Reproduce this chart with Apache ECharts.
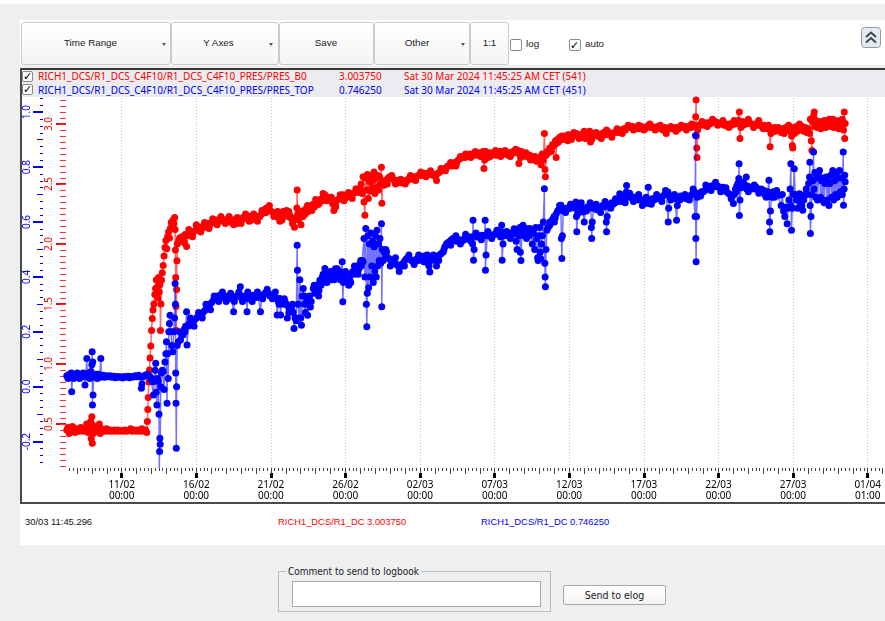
<!DOCTYPE html>
<html><head><meta charset="utf-8">
<script src="https://cdn.jsdelivr.net/npm/echarts@6/dist/echarts.min.js"></script>
<style>
html,body{margin:0;padding:0;width:885px;height:621px;overflow:hidden;background:#eeeff1;font-family:"Liberation Sans",Arial,sans-serif;}
.abs{position:absolute;white-space:nowrap;}
#topstrip{left:0;top:0;width:885px;height:4px;background:#fff;}
#toolbar{left:20px;top:20px;width:865px;height:45px;background:#fff;}
#plotpanel{left:20px;top:68px;width:865px;height:475px;background:#fff;border-top:2px solid #3a3a3a;}
#legendband{left:21px;top:70px;width:864px;height:27px;background:#eaecef;}
#leftline{left:20px;top:68px;width:1.5px;height:436px;background:#4a4a4a;}
#bottomline{left:20px;top:502px;width:865px;height:2px;background:#4a4a4a;}
.btn{position:absolute;top:22px;height:43px;border:1px solid #cacaca;border-radius:3px;background:linear-gradient(#ffffff,#f4f4f4);box-sizing:border-box;}
.btxt{position:absolute;top:37px;font-size:9.8px;color:#1a1a1a;transform:translateX(-50%);white-space:nowrap;font-family:"Liberation Sans",Arial,sans-serif;}
.caret{position:absolute;top:43px;width:0;height:0;border-left:2.5px solid transparent;border-right:2.5px solid transparent;border-top:3px solid #555;}
.cb{position:absolute;width:11px;height:11px;border:1px solid #8a8a8a;border-radius:2px;background:#fff;box-sizing:border-box;}
.ck{position:absolute;font-family:"DejaVu Sans";font-size:11px;color:#000;line-height:11px;}
.leg{position:absolute;font-family:"Noto Sans";font-size:10px;line-height:12px;white-space:nowrap;}
.stat{position:absolute;top:516px;font-family:"Liberation Sans",Arial,sans-serif;font-size:9.4px;white-space:nowrap;}
#chart{position:absolute;left:0;top:0;width:885px;height:621px;z-index:1;}
#fs{left:278px;top:571px;width:273px;height:41px;border:1px solid #bdbdbd;box-sizing:border-box;}
#fslegend{left:286px;top:566px;background:#eeeff1;padding:0 2px;font-family:"DejaVu Sans Condensed","DejaVu Sans";font-stretch:condensed;font-size:10px;color:#222;}
#inp{left:292px;top:581px;width:249px;height:26px;border:1px solid #a9a9a9;background:#fff;box-sizing:border-box;}
#send{left:563px;top:585px;width:103px;height:20px;border:1px solid #a9a9a9;border-radius:2px;background:linear-gradient(#ffffff,#f2f2f2);box-sizing:border-box;text-align:center;line-height:18px;font-family:"DejaVu Sans Condensed","DejaVu Sans";font-stretch:condensed;font-size:10.5px;color:#222;}
</style></head>
<body>
<div class="abs" id="topstrip"></div>
<div class="abs" id="toolbar"></div>
<div class="abs" id="plotpanel"></div>
<div class="abs" id="legendband"></div>
<div class="abs" id="leftline"></div>
<div class="abs" id="bottomline"></div>

<div class="btn" style="left:21px;width:150px"></div>
<div class="btn" style="left:171px;width:108px"></div>
<div class="btn" style="left:279px;width:95px"></div>
<div class="btn" style="left:374px;width:96px"></div>
<div class="btn" style="left:470px;width:39px"></div>
<div class="btxt" style="left:90.5px">Time Range</div>
<div class="caret" style="left:161.5px"></div>
<div class="btxt" style="left:218.5px">Y Axes</div>
<div class="caret" style="left:269px"></div>
<div class="btxt" style="left:326px">Save</div>
<div class="btxt" style="left:417px">Other</div>
<div class="caret" style="left:460.5px"></div>
<div class="btxt" style="left:489.5px">1:1</div>
<div class="cb" style="left:510px;top:39px;width:12px;height:12px"></div>
<div class="leg" style="left:526px;top:38px;color:#222;font-family:'Liberation Sans';font-size:9.8px">log</div>
<div class="cb" style="left:569px;top:39px;width:12px;height:12px"></div>
<div class="ck" style="left:570px;top:40px">✓</div>
<div class="leg" style="left:585px;top:38px;color:#222;font-family:'Liberation Sans';font-size:9.8px">auto</div>
<div class="abs" style="left:861px;top:27px;width:20px;height:21px;z-index:2">
<svg width="20" height="21" viewBox="0 0 20 21"><rect x="0.5" y="0.5" width="19" height="20" rx="3" fill="#e4eaf0" stroke="#8c9aab"/><polyline points="5,10 10,5.5 15,10" fill="none" stroke="#3d4654" stroke-width="2"/><polyline points="5,15.5 10,11 15,15.5" fill="none" stroke="#3d4654" stroke-width="2"/></svg></div>

<div class="cb" style="left:22px;top:71px"></div>
<div class="ck" style="left:23px;top:71px">✓</div>
<div class="cb" style="left:22px;top:84px"></div>
<div class="ck" style="left:23px;top:84px">✓</div>
<div class="leg" style="left:38px;top:70px;color:#ff0000">RICH1_DCS/R1_DCS_C4F10/R1_DCS_C4F10_PRES/PRES_B0</div>
<div class="leg" style="left:339px;top:70px;color:#ff0000">3.003750</div>
<div class="leg" style="left:404px;top:70px;color:#ff0000">Sat 30 Mar 2024 11:45:25 AM CET (541)</div>
<div class="leg" style="left:38px;top:83.5px;color:#0000ff">RICH1_DCS/R1_DCS_C4F10/R1_DCS_C4F10_PRES/PRES_TOP</div>
<div class="leg" style="left:339px;top:83.5px;color:#0000ff">0.746250</div>
<div class="leg" style="left:404px;top:83.5px;color:#0000ff">Sat 30 Mar 2024 11:45:25 AM CET (451)</div>

<div class="stat" style="left:25px;color:#111">30/03 11:45.296</div>
<div class="stat" style="left:278px;color:#ff0000">RICH1_DCS/R1_DC 3.003750</div>
<div class="stat" style="left:481px;color:#0000ff">RICH1_DCS/R1_DC 0.746250</div>

<div class="abs" id="fs"></div>
<div class="abs" id="fslegend">Comment to send to logbook</div>
<div class="abs" id="inp"></div>
<div class="abs" id="send">Send to elog</div>

<div id="chart"></div>
<script>
// ---- x axis (days since 11/02/2024 00:00) ----
const tickDays = [0, 5, 10, 15, 20, 25, 30, 35, 40, 45, 50];
const tickLabels = ["11/02\n00:00", "16/02\n00:00", "21/02\n00:00", "26/02\n00:00", "02/03\n00:00",
  "07/03\n00:00", "12/03\n00:00", "17/03\n00:00", "22/03\n00:00", "27/03\n00:00", "01/04\n01:00"];
const xMin = -3.733, xMax = 51.16;

// ---- y axes ----
const redTicks = [0.5, 1.0, 1.5, 2.0, 2.5, 3.0];
const blueTicks = [-0.2, 0.0, 0.2, 0.4, 0.6, 0.8, 1.0];
const redMin = 0.1333, redMax = 3.2167;
const blueMin = -0.2962, blueMax = 1.0517;

// ---- PRES_B0 (red) [day, value] ----
const redData = [
[-3.68,0.45],[-3.6,0.47],[-3.52,0.42],[-3.45,0.46],[-3.38,0.44],[-3.3,0.48],[-3.22,0.45],[-3.12,0.43],[-3.05,0.46],[-2.95,0.45],
[-2.85,0.44],[-2.75,0.47],[-2.65,0.45],[-2.55,0.44],[-2.45,0.46],[-2.35,0.5],[-2.25,0.43],[-2.15,0.47],[-2.08,0.52],[-2.04,0.38],
[-2.0,0.56],[-1.97,0.34],[-1.94,0.49],[-1.9,0.42],[-1.82,0.46],[-1.74,0.44],[-1.66,0.47],[-1.58,0.45],[-1.5,0.5],[-1.44,0.42],
[-1.36,0.46],[-1.26,0.45],[-1.15,0.44],[-1.02,0.46],[-0.9,0.44],[-0.78,0.45],[-0.65,0.44],[-0.52,0.45],[-0.4,0.44],[-0.28,0.45],
[-0.15,0.44],[-0.02,0.445],[0.1,0.44],[0.22,0.45],[0.35,0.44],[0.48,0.445],[0.6,0.46],[0.72,0.44],[0.85,0.45],[0.98,0.44],
[1.1,0.45],[1.22,0.44],[1.35,0.46],[1.48,0.44],[1.6,0.45],[1.68,0.43],
[1.72,0.52],[1.75,0.62],[1.78,0.72],[1.82,0.85],[1.86,0.95],[1.9,1.05],[1.95,1.15],[2.0,1.28],[2.05,1.38],[2.1,1.45],
[2.16,1.5],[2.22,1.58],[2.27,1.63],[2.32,1.7],[2.37,1.64],[2.42,1.55],[2.47,1.72],[2.52,1.6],[2.56,1.66],[2.6,1.28],
[2.63,1.5],[2.67,1.7],[2.72,1.76],[2.78,1.82],[2.84,1.9],[2.9,1.97],[2.96,2.03],[3.02,1.96],[3.08,2.06],[3.14,2.1],
[3.2,2.05],[3.26,2.13],[3.32,2.18],[3.38,2.15],[3.44,2.2],[3.5,2.17],[3.55,2.22],[3.58,2.12],[3.6,1.95],[3.62,1.72],
[3.64,1.48],[3.66,1.28],[3.68,1.62],[3.7,1.86],[3.73,2.0],[3.8,2.02],[3.88,2.05],[3.96,2.03],[4.04,2.06],
[4.13,2.05],[4.25,2.08],[4.35,1.98],[4.45,2.07],[4.57,2.08],[4.68,2.1],[4.8,2.1],[4.92,2.11],[5.03,2.13],[5.13,2.12],
[5.25,2.14],[5.36,2.13],[5.47,2.15],[5.58,2.14],[5.69,2.16],[5.8,2.17],[5.92,2.16],[6.03,2.18],[6.14,2.18],[6.25,2.19],
[6.36,2.2],[6.47,2.19],[6.58,2.2],[6.7,2.21],[6.81,2.19],[6.92,2.2],[7.03,2.2],[7.14,2.19],[7.25,2.21],[7.36,2.18],
[7.47,2.2],[7.58,2.19],[7.7,2.17],[7.81,2.2],[7.92,2.18],[8.03,2.21],[8.14,2.22],[8.26,2.21],[8.37,2.24],[8.48,2.22],
[8.59,2.23],[8.7,2.2],[8.81,2.22],[8.93,2.21],[9.04,2.23],[9.15,2.22],[9.26,2.23],[9.37,2.25],[9.49,2.27],[9.6,2.29],
[9.71,2.3],[9.82,2.28],[9.93,2.28],[10.04,2.27],[10.15,2.26],[10.26,2.24],[10.38,2.25],[10.49,2.22],[10.6,2.19],[10.71,2.24],
[10.82,2.27],[10.93,2.25],[11.05,2.28],[11.16,2.23],[11.27,2.24],[11.38,2.21],[11.49,2.2],[11.58,2.14],[11.66,2.22],[11.74,2.3],
[11.76,2.45],[11.8,2.25],[11.86,2.2],
[11.94,2.25],[12.02,2.16],[12.1,2.27],[12.2,2.28],[12.3,2.25],[12.39,2.3],[12.5,2.27],[12.6,2.28],[12.7,2.31],[12.8,2.33],
[12.93,2.31],[13.06,2.35],[13.18,2.33],[13.3,2.37],[13.42,2.36],[13.52,2.39],[13.62,2.41],[13.72,2.38],[13.82,2.39],[13.92,2.37],
[14.02,2.36],[14.1,2.35],[14.17,2.33],[14.22,2.28],[14.3,2.34],[14.4,2.36],[14.5,2.37],[14.6,2.38],[14.72,2.4],[14.84,2.41],
[14.95,2.38],[15.06,2.39],[15.18,2.4],[15.3,2.41],[15.4,2.4],[15.51,2.42],[15.62,2.43],[15.73,2.44],[15.84,2.45],[15.96,2.46],
[16.05,2.5],[16.12,2.42],[16.18,2.56],[16.24,2.35],[16.3,2.24],[16.35,2.55],[16.41,2.45],[16.47,2.58],[16.53,2.38],[16.6,2.52],
[16.66,2.44],[16.72,2.57],[16.78,2.47],[16.85,2.53],[16.91,2.6],[16.97,2.42],[17.03,2.55],[17.09,2.47],[17.15,2.57],[17.21,2.45],
[17.28,2.56],[17.34,2.5],[17.41,2.64],[17.44,2.34],[17.5,2.52],[17.58,2.49],[17.66,2.53],[17.75,2.52],[17.86,2.55],[17.97,2.56],
[18.08,2.55],[18.2,2.54],[18.3,2.52],[18.42,2.53],[18.53,2.51],[18.64,2.52],[18.76,2.51],[18.87,2.53],[18.98,2.52],[19.09,2.52],
[19.2,2.54],[19.31,2.55],[19.42,2.54],[19.53,2.56],[19.65,2.55],[19.76,2.56],[19.87,2.57],[19.98,2.58],[20.1,2.57],[20.21,2.59],
[20.32,2.58],[20.43,2.59],[20.55,2.58],[20.66,2.59],[20.77,2.58],[20.88,2.57],[21.0,2.58],[21.1,2.53],[21.2,2.59],[21.32,2.6],
[21.43,2.61],[21.54,2.62],[21.66,2.63],[21.77,2.64],[21.88,2.65],[22.0,2.66],[22.1,2.65],[22.22,2.67],[22.33,2.68],[22.44,2.67],
[22.55,2.7],[22.66,2.71],[22.77,2.72],[22.88,2.73],[23.0,2.72],[23.1,2.74],[23.22,2.73],[23.33,2.75],[23.44,2.74],[23.55,2.74],
[23.66,2.76],[23.78,2.74],[23.9,2.75],[24.0,2.76],[24.11,2.75],[24.22,2.77],[24.28,2.63],[24.33,2.7],[24.44,2.74],[24.55,2.72],
[24.66,2.76],[24.78,2.74],[24.89,2.75],[25.0,2.76],[25.11,2.74],[25.22,2.76],[25.34,2.77],[25.45,2.75],[25.56,2.77],[25.67,2.75],
[25.78,2.76],[25.9,2.74],[26.01,2.76],[26.12,2.75],[26.23,2.77],[26.34,2.76],[26.45,2.77],[26.56,2.78],[26.62,2.67],[26.7,2.75],
[26.8,2.77],[26.9,2.74],[27.01,2.75],[27.12,2.73],[27.24,2.74],[27.35,2.74],[27.46,2.72],[27.57,2.71],[27.68,2.7],[27.8,2.69],
[27.91,2.71],
[28.02,2.72],[28.1,2.66],[28.18,2.75],[28.26,2.7],[28.33,2.92],[28.37,2.62],[28.4,2.56],[28.45,2.74],[28.52,2.77],[28.6,2.76],
[28.69,2.8],[28.78,2.79],[28.88,2.83],[28.98,2.82],[29.08,2.86],[29.12,2.72],[29.2,2.87],[29.28,2.85],[29.36,2.89],[29.46,2.88],
[29.58,2.87],[29.7,2.9],[29.82,2.88],[29.92,2.91],[30.03,2.9],[30.14,2.87],[30.25,2.9],[30.36,2.91],[30.48,2.92],[30.6,2.9],
[30.72,2.91],[30.84,2.89],[30.96,2.92],[31.08,2.88],[31.2,2.92],[31.3,2.93],[31.37,2.94],[31.42,2.85],[31.5,2.87],[31.6,2.92],
[31.72,2.91],[31.84,2.9],[31.96,2.91],[32.08,2.89],[32.2,2.92],[32.32,2.93],[32.44,2.91],[32.56,2.92],[32.68,2.93],[32.8,2.91],
[32.92,2.92],[33.04,2.93],[33.16,2.94],[33.28,2.93],[33.4,2.95],[33.52,2.94],[33.64,2.96],[33.76,2.95],[33.88,2.97],[34.0,2.98],
[34.12,2.97],[34.24,2.98],[34.36,2.97],[34.48,2.96],[34.6,2.97],[34.72,2.96],[34.84,2.98],[34.96,2.97],[35.08,2.96],[35.2,2.98],
[35.32,2.99],[35.44,2.97],[35.56,2.98],[35.68,2.97],[35.8,2.96],[35.92,2.98],[36.04,2.97],[36.16,2.96],[36.28,2.95],[36.4,2.97],
[36.5,2.92],[36.6,2.96],[36.72,2.97],[36.84,2.96],[36.96,2.97],[37.08,2.96],[37.2,2.97],[37.32,2.96],[37.44,2.97],[37.56,2.98],
[37.68,2.97],[37.8,2.98],[37.92,2.97],[38.04,2.98],[38.16,2.97],[38.28,2.98],[38.4,2.99],[38.47,3.06],[38.5,3.2],[38.52,2.9],
[38.54,2.8],[38.56,2.72],[38.6,2.95],[38.7,2.99],[38.82,3.0],[38.94,2.99],[39.06,3.01],[39.18,3.0],[39.3,3.01],[39.42,3.0],
[39.54,3.02],[39.66,3.01],[39.78,3.02],[39.9,3.01],[40.02,3.0],[40.14,3.01],[40.26,3.0],[40.38,2.99],[40.5,3.0],[40.62,2.98],
[40.74,3.0],[40.86,2.99],[40.98,3.01],[41.1,3.0],[41.22,3.02],[41.34,3.03],[41.4,3.1],[41.44,2.88],[41.5,2.97],[41.6,3.02],
[41.72,3.01],[41.84,3.0],[41.96,3.02],[42.08,3.01],[42.2,3.0],[42.32,2.99],[42.44,3.0],[42.56,2.99],[42.68,3.01],[42.8,2.99],
[42.92,2.98],[43.04,2.99],[43.16,2.97],[43.28,2.96],[43.4,2.97],[43.46,2.81],[43.52,2.92],[43.64,2.96],[43.76,2.97],[43.88,2.95],
[44.0,2.97],[44.09,2.96],
[44.2,2.93],[44.3,2.96],[44.4,2.92],[44.5,2.97],[44.6,2.95],[44.7,2.99],[44.8,2.94],[44.9,2.9],[44.95,2.82],[44.98,2.8],
[45.02,2.97],[45.1,2.92],[45.2,2.98],[45.3,2.94],[45.43,3.0],[45.52,2.96],[45.62,2.98],[45.72,2.94],[45.82,2.97],[45.92,2.93],
[46.02,2.96],[46.1,2.92],[46.16,3.04],[46.22,2.86],[46.26,2.78],[46.3,3.02],[46.38,3.07],[46.42,3.1],[46.46,2.98],[46.54,3.03],
[46.62,2.97],[46.7,3.02],[46.77,3.0],[46.86,2.96],[46.94,3.02],[47.02,2.98],[47.1,3.03],[47.18,2.97],[47.26,3.02],[47.34,2.99],
[47.42,3.04],[47.5,2.98],[47.58,3.02],[47.66,3.04],[47.74,2.97],[47.82,3.03],[47.9,2.98],[47.98,3.02],[48.06,2.96],[48.14,3.03],
[48.22,2.97],[48.3,3.04],[48.38,2.95],[48.43,3.1],[48.46,2.88],[48.49,3.00375]
];
// additional red readings (band scatter)
const redExtra = [
[4.2,2.01],[4.5,2.12],[4.75,2.06],[5.0,2.16],[5.3,2.1],[5.55,2.18],[5.85,2.13],[6.1,2.21],[6.4,2.16],[6.65,2.23],
[6.95,2.17],[7.2,2.23],[7.5,2.16],[7.75,2.22],[8.0,2.17],[8.3,2.25],[8.55,2.19],[8.85,2.25],[9.1,2.19],[9.4,2.28],
[9.65,2.26],[9.9,2.32],[10.2,2.23],[10.45,2.27],[10.75,2.2],[11.0,2.25],[11.2,2.27],[11.45,2.17],
[12.15,2.23],[12.45,2.32],[12.75,2.28],[13.0,2.37],[13.25,2.34],[13.5,2.42],[13.75,2.36],[14.05,2.39],[14.35,2.31],[14.65,2.41],
[14.9,2.36],[15.2,2.43],[15.45,2.38],[15.7,2.46],[15.9,2.43],
[17.8,2.5],[18.1,2.57],[18.35,2.5],[18.7,2.54],[19.0,2.5],[19.35,2.57],[19.7,2.53],[20.05,2.6],[20.4,2.56],[20.7,2.61],
[21.05,2.56],[21.4,2.63],[21.7,2.61],[22.05,2.68],[22.4,2.65],[22.7,2.73],[23.05,2.75],[23.4,2.72],[23.7,2.77],[24.05,2.73],
[24.4,2.77],[24.7,2.73],[25.05,2.78],[25.4,2.73],[25.7,2.78],[26.05,2.73],[26.4,2.79],[26.75,2.72],[27.1,2.76],[27.4,2.7],[27.7,2.73],
[28.8,2.77],[29.15,2.84],[29.5,2.9],[29.9,2.86],[30.3,2.93],[30.65,2.88],[31.0,2.94],[31.35,2.89],[31.8,2.93],[32.15,2.88],
[32.5,2.95],[32.85,2.89],[33.2,2.96],[33.55,2.92],[33.95,2.99],[34.3,2.95],[34.65,2.99],[35.0,2.95],[35.4,3.0],[35.75,2.95],
[36.1,2.99],[36.45,2.94],[36.8,2.98],[37.15,2.94],[37.5,2.99],[37.85,2.95],[38.2,3.0],[38.9,3.02],[39.25,2.98],[39.6,3.04],
[39.95,2.99],[40.3,3.03],[40.7,2.97],[41.05,3.03],[41.65,2.99],[42.0,3.04],[42.35,2.97],[42.7,3.03],[43.0,2.96],[43.35,2.99],[43.8,2.94]
];

// ---- PRES_TOP (blue) [day, value] ----
const blueData = [
[-3.68,0.04],[-3.6,0.03],[-3.52,0.045],[-3.45,0.035],[-3.38,0.05],[-3.35,-0.018],[-3.3,0.04],[-3.22,0.03],[-3.14,0.045],[-3.06,0.035],
[-2.98,0.05],[-2.9,0.04],[-2.82,0.03],[-2.74,0.045],[-2.66,0.035],[-2.58,0.05],[-2.5,0.04],[-2.46,0.006],[-2.4,0.042],[-2.34,0.103],
[-2.3,0.035],[-2.22,0.05],[-2.14,0.03],[-2.06,0.055],[-2.0,0.08],[-1.98,0.127],[-1.96,-0.067],[-1.94,0.09],[-1.92,-0.03],[-1.88,0.04],
[-1.8,0.035],[-1.72,0.045],[-1.64,0.03],[-1.56,0.045],[-1.48,0.035],[-1.4,0.103],[-1.36,0.035],[-1.26,0.042],[-1.14,0.034],[-1.02,0.04],
[-0.9,0.036],[-0.78,0.04],[-0.66,0.034],[-0.54,0.038],[-0.42,0.033],[-0.3,0.037],[-0.18,0.034],[-0.06,0.036],[0.06,0.032],[0.18,0.037],
[0.3,0.034],[0.42,0.038],[0.54,0.033],[0.66,0.037],[0.78,0.035],[0.9,0.04],[1.02,0.036],[1.14,0.042],[1.26,0.035],[1.32,-0.006],
[1.36,0.01],[1.42,0.035],[1.52,0.04],[1.62,0.043],[1.72,0.045],[1.82,0.04],[1.9,0.036],
[1.96,0.025],[2.02,0.03],[2.08,0.018],[2.13,-0.03],[2.18,0.02],[2.24,0.06],[2.28,0.085],[2.32,-0.02],[2.36,-0.067],[2.4,0.03],
[2.45,0.02],[2.5,-0.1],[2.52,-0.297],[2.54,-0.236],[2.56,-0.188],[2.58,-0.21],[2.62,0.0],[2.66,0.05],[2.72,0.06],[2.78,0.055],
[2.84,-0.01],[2.9,0.09],[2.96,0.12],[3.0,0.164],[3.04,-0.06],[3.08,0.12],[3.12,0.03],[3.16,0.2],[3.2,0.23],[3.24,0.26],
[3.3,0.2],[3.36,0.15],[3.42,0.127],[3.48,0.2],[3.54,0.25],[3.58,0.376],[3.6,0.3],[3.62,0.05],[3.64,-0.06],[3.66,-0.224],
[3.68,0.0],[3.72,0.15],[3.79,0.164],[3.86,0.2],[3.94,0.17],[4.02,0.19],[4.1,0.188],[4.2,0.21],[4.28,0.22],[4.35,0.273],
[4.38,0.152],[4.45,0.22],[4.55,0.23],[4.65,0.24],[4.72,0.23],[4.8,0.236],[4.9,0.245],[5.0,0.25],[5.1,0.255],[5.24,0.261],
[5.35,0.265],[5.45,0.27],[5.57,0.278],[5.69,0.285],[5.8,0.29],[5.9,0.3],[6.02,0.306],[6.14,0.315],[6.25,0.318],[6.36,0.325],
[6.47,0.33],[6.58,0.333],[6.7,0.328],[6.8,0.325],[6.92,0.33],[7.03,0.327],[7.14,0.322],[7.25,0.32],[7.36,0.326],[7.47,0.321],
[7.5,0.273],[7.58,0.325],[7.7,0.33],[7.81,0.328],[7.92,0.333],[7.95,0.364],[8.03,0.33],[8.14,0.325],[8.26,0.33],[8.37,0.327],
[8.4,0.273],[8.48,0.32],[8.6,0.33],[8.7,0.328],[8.81,0.333],[8.92,0.33],[9.04,0.325],[9.15,0.33],[9.26,0.327],[9.3,0.273],
[9.38,0.33],[9.5,0.335],[9.6,0.34],[9.71,0.345],[9.82,0.34],[9.93,0.33],[10.04,0.335],[10.15,0.333],[10.26,0.33],[10.38,0.321],
[10.42,0.261],[10.5,0.31],[10.6,0.321],[10.65,0.261],[10.72,0.31],[10.82,0.3],[10.94,0.31],[11.05,0.3],[11.1,0.25],[11.18,0.29],
[11.3,0.29],[11.4,0.28],[11.49,0.27],[11.55,0.212],[11.62,0.25],[11.7,0.24],[11.76,0.515],[11.78,0.424],[11.82,0.3],[11.88,0.25],
[11.94,0.39],[12.0,0.25],[12.05,0.224],[12.1,0.33],[12.17,0.358],[12.24,0.3],[12.31,0.27],[12.39,0.309],[12.46,0.26],[12.53,0.3],
[12.6,0.33],[12.7,0.31],[12.84,0.358],[12.94,0.34],[13.04,0.36],[13.14,0.37],[13.22,0.35],[13.28,0.388],[13.36,0.37],[13.45,0.4],
[13.54,0.39],[13.62,0.431],[13.7,0.4],[13.8,0.41],[13.9,0.39],[14.0,0.42],[14.08,0.4],[14.17,0.406],[14.25,0.39],[14.32,0.43],
[14.4,0.41],[14.5,0.405],[14.6,0.42],[14.7,0.41],[14.78,0.455],[14.82,0.309],[14.86,0.38],[14.95,0.4],[15.05,0.385],[15.15,0.39],
[15.22,0.37],[15.29,0.39],[15.38,0.41],[15.48,0.42],[15.58,0.41],[15.66,0.43],[15.74,0.431],[15.82,0.44],[15.9,0.43],[15.98,0.45],
[16.06,0.44],[16.12,0.46],[16.18,0.455],[16.24,0.54],[16.3,0.4],[16.36,0.576],[16.4,0.3],[16.43,0.218],[16.46,0.34],[16.5,0.55],
[16.55,0.36],[16.6,0.52],[16.65,0.4],[16.7,0.56],[16.76,0.44],[16.81,0.53],[16.86,0.38],[16.91,0.51],[16.96,0.42],[17.01,0.55],
[17.06,0.4],[17.11,0.57],[17.16,0.44],[17.21,0.52],[17.26,0.46],[17.31,0.54],[17.36,0.45],[17.41,0.594],[17.43,0.291],[17.47,0.5],
[17.53,0.46],[17.6,0.49],[17.68,0.47],[17.75,0.491],[17.85,0.47],[17.95,0.465],[18.06,0.46],[18.19,0.455],[18.3,0.45],[18.42,0.445],
[18.53,0.44],[18.64,0.436],[18.75,0.445],[18.86,0.45],[18.98,0.46],[19.09,0.467],[19.2,0.47],[19.31,0.465],[19.42,0.46],[19.54,0.455],
[19.65,0.46],[19.76,0.465],[19.87,0.46],[19.98,0.467],[20.1,0.47],[20.2,0.475],[20.32,0.47],[20.43,0.479],[20.52,0.45],[20.6,0.44],
[20.65,0.418],[20.72,0.46],[20.82,0.47],[20.92,0.465],[21.02,0.46],[21.1,0.44],[21.2,0.475],[21.3,0.48],[21.42,0.485],[21.55,0.491],
[21.66,0.51],[21.77,0.521],[21.88,0.525],[22.0,0.53],[22.1,0.535],[22.21,0.54],[22.32,0.535],[22.44,0.53],[22.55,0.535],[22.66,0.53],
[22.77,0.535],[22.88,0.533],[23.0,0.54],[23.1,0.538],[23.22,0.54],[23.34,0.545],[23.45,0.545],[23.52,0.52],[23.55,0.606],[23.58,0.461],
[23.62,0.5],[23.7,0.55],[23.82,0.545],[23.94,0.55],[24.05,0.548],[24.16,0.552],[24.28,0.55],[24.34,0.552],[24.36,0.606],[24.38,0.424],
[24.42,0.48],[24.5,0.55],[24.62,0.555],[24.74,0.55],[24.89,0.552],[25.0,0.555],[25.1,0.56],[25.22,0.555],[25.34,0.56],[25.45,0.564],
[25.47,0.588],[25.5,0.461],[25.56,0.52],[25.64,0.55],[25.74,0.555],[25.86,0.55],[26.01,0.552],[26.12,0.56],[26.22,0.555],[26.34,0.56],
[26.44,0.53],[26.5,0.5],[26.56,0.57],[26.62,0.55],[26.68,0.58],[26.72,0.49],[26.76,0.46],[26.82,0.56],[26.9,0.588],[26.98,0.55],
[27.06,0.57],[27.14,0.54],[27.22,0.575],[27.3,0.55],[27.35,0.576],[27.44,0.56],[27.52,0.52],[27.6,0.56],[27.68,0.5],[27.75,0.58],
[27.82,0.54],[27.88,0.47],[27.91,0.46],[27.96,0.55],
[28.02,0.58],[28.05,0.49],[28.08,0.467],[28.14,0.52],[28.2,0.55],[28.26,0.6],[28.33,0.721],[28.36,0.45],[28.38,0.4],[28.4,0.364],
[28.44,0.5],[28.5,0.57],[28.58,0.58],[28.69,0.588],[28.78,0.6],[28.88,0.61],[28.98,0.62],[29.06,0.615],[29.13,0.63],[29.22,0.64],
[29.3,0.645],[29.38,0.65],[29.44,0.661],[29.47,0.54],[29.5,0.467],[29.54,0.55],[29.6,0.64],[29.7,0.645],[29.8,0.65],[29.92,0.648],
[30.03,0.649],[30.12,0.655],[30.22,0.66],[30.34,0.665],[30.44,0.673],[30.48,0.62],[30.5,0.564],[30.56,0.63],[30.66,0.66],[30.76,0.655],
[30.86,0.645],[30.92,0.636],[31.0,0.6],[31.08,0.65],[31.2,0.655],[31.32,0.65],[31.44,0.661],[31.48,0.58],[31.5,0.54],[31.54,0.6],
[31.62,0.65],[31.72,0.655],[31.84,0.645],[31.94,0.65],[32.04,0.643],[32.14,0.655],[32.24,0.66],[32.36,0.655],[32.44,0.661],[32.48,0.6],
[32.5,0.564],[32.54,0.62],[32.62,0.66],[32.72,0.665],[32.84,0.67],[32.94,0.665],[33.04,0.67],[33.15,0.673],[33.26,0.68],[33.38,0.703],
[33.48,0.675],[33.58,0.68],[33.7,0.69],[33.82,0.709],[33.84,0.733],[33.9,0.69],[34.0,0.695],[34.12,0.69],[34.24,0.685],[34.36,0.69],
[34.49,0.685],[34.6,0.68],[34.72,0.685],[34.84,0.68],[34.96,0.675],[35.08,0.67],[35.18,0.675],[35.27,0.667],[35.29,0.727],[35.34,0.67],
[35.44,0.68],[35.56,0.685],[35.68,0.68],[35.8,0.685],[35.92,0.69],[36.05,0.685],[36.16,0.69],[36.28,0.695],[36.4,0.7],[36.5,0.705],
[36.61,0.709],[36.63,0.6],[36.66,0.65],[36.76,0.69],[36.88,0.695],[37.0,0.69],[37.1,0.685],[37.17,0.69],[37.19,0.606],[37.24,0.66],
[37.34,0.69],[37.46,0.695],[37.58,0.69],[37.7,0.688],[37.84,0.685],[37.96,0.69],[38.08,0.695],[38.2,0.7],[38.32,0.705],[38.4,0.709],
[38.43,0.62],[38.46,0.915],[38.48,0.54],[38.5,0.455],[38.53,0.62],[38.58,0.69],[38.66,0.7],[38.76,0.705],[38.86,0.71],[38.96,0.709],
[39.08,0.715],[39.2,0.72],[39.32,0.725],[39.44,0.73],[39.56,0.728],[39.63,0.733],[39.74,0.73],[39.86,0.728],[39.98,0.73],[40.1,0.725],
[40.2,0.72],[40.3,0.727],[40.42,0.715],[40.54,0.71],[40.66,0.705],[40.78,0.7],[40.88,0.695],[40.97,0.697],[41.0,0.667],[41.06,0.7],
[41.14,0.72],[41.22,0.73],[41.3,0.74],[41.36,0.758],[41.38,0.812],[41.4,0.624],[41.44,0.68],[41.52,0.725],[41.62,0.73],[41.72,0.735],
[41.82,0.733],[41.86,0.764],[41.9,0.72],[41.98,0.73],[42.08,0.725],[42.2,0.72],[42.32,0.725],[42.44,0.72],[42.53,0.727],[42.64,0.72],
[42.76,0.715],[42.88,0.72],[42.98,0.71],[43.1,0.7],[43.2,0.69],[43.3,0.71],[43.38,0.752],[43.42,0.6],[43.44,0.564],[43.48,0.64],
[43.56,0.7],[43.66,0.71],[43.76,0.69],[43.86,0.705],[43.96,0.7],[44.09,0.697],
[44.2,0.66],[44.28,0.7],[44.36,0.64],[44.44,0.62],[44.54,0.655],[44.6,0.594],[44.66,0.65],[44.72,0.68],[44.8,0.72],[44.85,0.812],
[44.87,0.66],[44.89,0.57],[44.94,0.65],[45.02,0.7],[45.08,0.794],[45.14,0.7],[45.22,0.68],[45.3,0.65],[45.38,0.69],[45.43,0.703],
[45.5,0.67],[45.58,0.66],[45.65,0.643],[45.72,0.68],[45.8,0.7],[45.88,0.72],[45.96,0.7],[46.04,0.74],[46.1,0.764],[46.12,0.818],
[46.14,0.66],[46.16,0.558],[46.2,0.62],[46.26,0.7],[46.32,0.75],[46.37,0.855],[46.4,0.72],[46.46,0.78],[46.52,0.69],[46.58,0.76],
[46.64,0.68],[46.7,0.77],[46.77,0.788],[46.84,0.69],[46.9,0.75],[46.96,0.68],[47.02,0.76],[47.08,0.67],[47.14,0.74],[47.22,0.764],
[47.28,0.68],[47.34,0.75],[47.4,0.66],[47.46,0.74],[47.52,0.77],[47.58,0.69],[47.66,0.788],[47.72,0.68],[47.78,0.75],[47.84,0.7],
[47.9,0.77],[47.96,0.69],[48.02,0.76],[48.08,0.7],[48.11,0.788],[48.18,0.71],[48.24,0.76],[48.3,0.7],[48.36,0.855],[48.38,0.661],
[48.42,0.72],[48.46,0.77],[48.49,0.74625]
];
// additional blue readings (band scatter)
const blueExtra = [
[4.25,0.2],[4.6,0.25],[4.85,0.22],[5.15,0.27],[5.4,0.25],[5.65,0.3],[5.95,0.28],[6.2,0.33],[6.5,0.31],[6.75,0.345],
[7.0,0.31],[7.3,0.34],[7.55,0.31],[7.85,0.345],[8.1,0.31],[8.45,0.345],[8.75,0.31],[9.1,0.345],[9.45,0.32],[9.75,0.355],
[10.1,0.32],[10.3,0.345],[10.55,0.3],[10.9,0.32],[11.2,0.27],[11.45,0.3],
[12.25,0.33],[12.65,0.29],[12.9,0.37],[13.2,0.33],[13.5,0.41],[13.75,0.38],[14.05,0.39],[14.45,0.43],[14.65,0.39],[15.0,0.42],
[15.35,0.38],[15.6,0.44],[15.85,0.41],[16.02,0.46],
[17.7,0.5],[18.0,0.44],[18.35,0.47],[18.6,0.42],[18.95,0.44],[19.25,0.48],[19.6,0.445],[19.9,0.48],[20.25,0.455],[20.5,0.48],
[20.9,0.48],[21.25,0.46],[21.6,0.5],[22.05,0.515],[22.4,0.55],[22.7,0.52],[23.05,0.555],[23.4,0.53],[23.75,0.56],[24.1,0.535],
[24.55,0.565],[24.8,0.54],[25.15,0.57],[25.4,0.545],[25.8,0.565],[26.05,0.54],[26.3,0.575],
[28.7,0.6],[29.0,0.6],[29.35,0.66],[29.75,0.635],[30.08,0.665],[30.4,0.65],[30.8,0.67],[31.15,0.64],[31.4,0.67],[31.8,0.665],
[32.1,0.635],[32.4,0.675],[32.78,0.65],[33.1,0.685],[33.45,0.69],[33.75,0.67],[34.05,0.705],[34.3,0.675],[34.65,0.7],[34.9,0.66],
[35.15,0.69],[35.5,0.665],[35.85,0.7],[36.2,0.675],[36.45,0.715],[36.8,0.68],[37.05,0.7],[37.4,0.68],[37.75,0.7],[38.05,0.68],
[38.3,0.72],[38.8,0.695],[39.15,0.735],[39.5,0.715],[39.8,0.745],[40.15,0.71],[40.5,0.725],[40.85,0.685],[41.2,0.71],[41.65,0.745],
[42.0,0.71],[42.4,0.735],[42.7,0.705],[43.05,0.715],[43.6,0.69],[43.9,0.715]
];

function byDay(a, b) { return a[0] - b[0]; }
const redSeries = redData.concat(redExtra).sort(byDay);
const blueSeries = blueData.concat(blueExtra).sort(byDay);

function steps(a, b, s) {
  const out = [];
  for (let i = Math.ceil(a / s - 1e-9); i * s <= b + 1e-9; i++) out.push(+(i * s).toFixed(4));
  return out;
}
const dayTicks = steps(xMin, xMax, 1);
const quarterTicks = steps(xMin, xMax, 0.25);
const redMinor = steps(redMin, redMax, 0.05);
const blueMid = steps(blueMin, blueMax, 0.1);
const blueMinor = steps(blueMin, blueMax, 0.025);

const FONT = 'Noto Sans';
const GRID = { left: 66, top: 98, width: 819, height: 370 };

function xAx(opts) {
  return Object.assign({
    type: 'value', min: xMin, max: xMax, position: 'bottom',
    axisLine: { show: false, onZero: false }, splitLine: { show: false },
    axisLabel: { show: false }
  }, opts);
}
function yAx(opts) {
  return Object.assign({
    type: 'value', position: 'left',
    axisLine: { show: false, onZero: false }, splitLine: { show: false },
    axisLabel: { show: false }
  }, opts);
}

const chart = echarts.init(document.getElementById('chart'), null, { renderer: 'canvas' });
chart.setOption({
  animation: false,
  backgroundColor: 'transparent',
  grid: Object.assign({ containLabel: false }, GRID),
  xAxis: [
    xAx({
      offset: 5,
      axisTick: { show: true, customValues: tickDays, length: 5, lineStyle: { color: '#000', width: 3 } },
      axisLabel: {
        show: true, customValues: tickDays, margin: 7, color: '#000', fontFamily: FONT, fontSize: 10, lineHeight: 11,
        formatter: function (v) { const i = tickDays.indexOf(v); return i >= 0 ? tickLabels[i] : ''; }
      },
      splitLine: { show: true, lineStyle: { color: '#c4c4c4', type: [1, 2], width: 1 } }
    }),
    xAx({ axisTick: { show: true, customValues: dayTicks, length: 6, lineStyle: { color: '#444', width: 1 } } }),
    xAx({ axisTick: { show: true, customValues: quarterTicks, length: 3, lineStyle: { color: '#444', width: 1 } } })
  ],
  yAxis: [
    yAx({ min: redMin, max: redMax,
      axisTick: { show: true, customValues: redTicks, length: 10, lineStyle: { color: '#ff0000', width: 2 } },
      axisLabel: { show: true, customValues: redTicks, rotate: 90, margin: 12, color: '#ff0000', fontFamily: FONT, fontSize: 10,
        formatter: function (v) { return v.toFixed(1); } } }),
    yAx({ min: redMin, max: redMax,
      axisTick: { show: true, customValues: redMinor, length: 6, lineStyle: { color: '#ff3030', width: 1 } } }),
    yAx({ min: blueMin, max: blueMax, offset: 23,
      axisTick: { show: true, customValues: blueTicks, length: 10, lineStyle: { color: '#0000ff', width: 2 } },
      axisLabel: { show: true, customValues: blueTicks, rotate: 90, margin: 11, color: '#0000ff', fontFamily: FONT, fontSize: 10,
        formatter: function (v) { return v.toFixed(1); } } }),
    yAx({ min: blueMin, max: blueMax, offset: 23,
      axisTick: { show: true, customValues: blueMid, length: 6, lineStyle: { color: '#0000ff', width: 1 } } }),
    yAx({ min: blueMin, max: blueMax, offset: 23,
      axisTick: { show: true, customValues: blueMinor, length: 3, lineStyle: { color: '#0000ff', width: 1 } } })
  ],
  series: [
    { type: 'line', name: 'PRES_B0', xAxisIndex: 0, yAxisIndex: 0, data: redSeries,
      symbol: 'circle', symbolSize: 7, showSymbol: true, showAllSymbol: true,
      itemStyle: { color: '#ff0000' }, lineStyle: { color: 'rgba(255,0,0,0.6)', width: 1.5 }, z: 2 },
    { type: 'line', name: 'PRES_TOP', xAxisIndex: 0, yAxisIndex: 2, data: blueSeries,
      symbol: 'circle', symbolSize: 7, showSymbol: true, showAllSymbol: true,
      itemStyle: { color: '#0000ff' }, lineStyle: { color: 'rgba(0,0,255,0.55)', width: 1.5 }, z: 3 }
  ]
});
</script>
</body></html>
